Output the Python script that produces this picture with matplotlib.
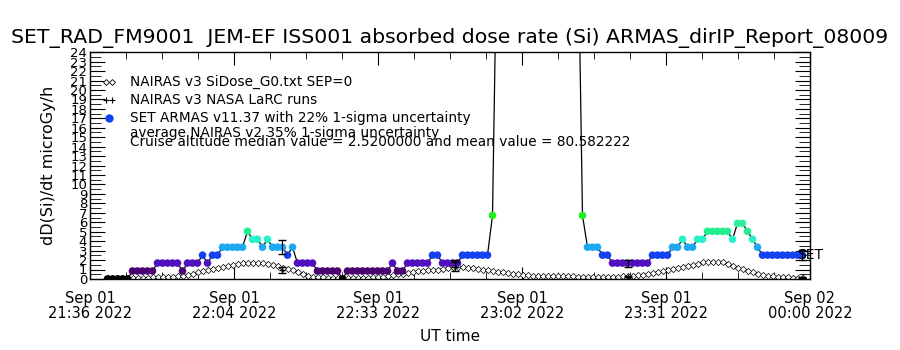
import numpy as np
import matplotlib
matplotlib.use('Agg')
import matplotlib.pyplot as plt
from matplotlib.colors import ListedColormap, BoundaryNorm
from matplotlib.ticker import MultipleLocator

# Zeitachse in Minuten ab 21:36 UT, ein Messwert pro Minute
t_start = 3.5
t_step = 1.0

# ARMAS Dosisrate (microGy/h), Spitze in der Mitte geht weit über den Plotbereich
armas = [
    0.0, 0.0, 0.0, 0.0, 0.0,
    0.84, 0.84, 0.84, 0.84, 0.84,
    1.68, 1.68, 1.68, 1.68, 1.68,
    0.84, 1.68, 1.68, 1.68, 2.52, 1.68, 2.52, 2.52,
    3.36, 3.36, 3.36, 3.36, 3.36,
    5.04, 4.20, 4.20, 3.36, 4.20,
    3.36, 3.36, 3.36, 2.52, 3.36,
    1.68, 1.68, 1.68, 1.68,
    0.84, 0.84, 0.84, 0.84, 0.84,
    0.0,
    0.84, 0.84, 0.84, 0.84, 0.84, 0.84, 0.84, 0.84, 0.84,
    1.68, 0.84, 0.84,
    1.68, 1.68, 1.68, 1.68, 1.68,
    2.52, 2.52,
    1.68, 1.68, 1.68, 1.68,
    2.52, 2.52, 2.52, 2.52, 2.52, 2.52,
    6.72,
    40.0, 150.0, 400.0, 800.0, 1100.0, 1300.0, 1400.0, 1350.0, 1200.0,
    1050.0, 900.0, 650.0, 400.0, 200.0, 90.0, 45.0, 40.0,
    6.72,
    3.36, 3.36, 3.36,
    2.52, 2.52,
    1.68, 1.68, 1.68, 1.68, 1.68, 1.68, 1.68, 1.68,
    2.52, 2.52, 2.52, 2.52,
    3.36, 3.36, 4.20, 3.36, 3.36, 4.20, 4.20,
    5.04, 5.04, 5.04, 5.04, 5.04,
    4.20, 5.88, 5.88, 5.04, 4.20, 3.36,
    2.52, 2.52, 2.52, 2.52, 2.52, 2.52, 2.52, 2.52, 2.52,
]

# NAIRAS v3 SiDose_G0 Modellwerte
nairas = [
    0.15, 0.15, 0.15, 0.15, 0.15, 0.15, 0.15, 0.15, 0.15, 0.2,
    0.2, 0.2, 0.2, 0.25, 0.3, 0.35, 0.45, 0.55, 0.7, 0.85,
    0.95, 1.05, 1.15, 1.25, 1.4, 1.5, 1.6, 1.65, 1.7, 1.7,
    1.7, 1.65, 1.55, 1.45, 1.35, 1.2, 1.05, 0.9, 0.7, 0.5,
    0.35, 0.25, 0.2, 0.2, 0.15, 0.15, 0.15, 0.15, 0.15, 0.15,
    0.15, 0.15, 0.15, 0.2, 0.2, 0.25, 0.3, 0.4, 0.5, 0.55,
    0.6, 0.7, 0.8, 0.85, 0.9, 0.95, 1.0, 1.1, 1.2, 1.3,
    1.3, 1.25, 1.2, 1.15, 1.05, 1.0, 0.9, 0.85, 0.75, 0.7,
    0.6, 0.55, 0.5, 0.45, 0.4, 0.35, 0.35, 0.3, 0.3, 0.3,
    0.3, 0.3, 0.3, 0.3, 0.25, 0.25, 0.25, 0.25, 0.25, 0.25,
    0.25, 0.25, 0.25, 0.3, 0.3, 0.35, 0.4, 0.45, 0.55, 0.65,
    0.75, 0.85, 0.95, 1.05, 1.15, 1.3, 1.4, 1.5, 1.6, 1.75,
    1.75, 1.8, 1.8, 1.75, 1.6, 1.4, 1.2, 1.05, 0.85, 0.7,
    0.55, 0.45, 0.35, 0.3, 0.25, 0.2, 0.2, 0.15, 0.15, 0.15,
]

# NASA LaRC Läufe (35% Unsicherheit) und ARMAS Fehlerbalken (22%)
larc_t = [3.6, 38.4, 73.0, 107.6, 142.4]
larc_v = [0.15, 0.95, 1.30, 0.25, 0.15]
larc_err = [0.05, 0.33, 0.45, 0.09, 0.05]
armas_bar_v = [0.0, 3.36, 1.68, 1.68, 2.52]
armas_bar_err = [0.0, 0.74, 0.37, 0.37, 0.55]

tick_pos = [0, 28.8, 57.6, 86.4, 115.2, 144]
tick_lab = ['Sep 01\n21:36 2022', 'Sep 01\n22:04 2022', 'Sep 01\n22:33 2022',
            'Sep 01\n23:02 2022', 'Sep 01\n23:31 2022', 'Sep 02\n00:00 2022']

times = t_start + t_step * np.arange(len(armas))

# Farbskala nach Dosisstufe (wie IDL rainbow)
level_colors = ['#000000', '#4A0070', '#5010C0', '#1442F0', '#1EA8F0',
                '#28F0C8', '#22F090', '#2AF0A0', '#22EE22']
cmap = ListedColormap(level_colors)
norm = BoundaryNorm(np.arange(-0.42, 7.2, 0.84), ncolors=len(level_colors), clip=True)

fig = plt.figure(figsize=(9, 3.5), dpi=100)
ax = fig.add_axes([0.1, 0.203, 0.8, 0.648])

ax.plot(times, nairas, color='black', lw=0.5, marker='D', ms=3.2,
        mfc='white', mec='black', mew=0.5, zorder=2)
ax.plot(times, armas, color='black', lw=0.9, zorder=3)
ax.scatter(times, armas, c=armas, cmap=cmap, norm=norm, s=30,
           edgecolors='none', zorder=4)
ax.errorbar(larc_t, larc_v, yerr=larc_err, fmt='+', color='black', ms=5,
            capsize=3, lw=0.8, zorder=5)
ax.errorbar(larc_t, armas_bar_v, yerr=armas_bar_err, fmt='none', ecolor='black',
            capsize=3, lw=0.8, zorder=5)
ax.text(141.4, 2.52, 'SET', fontsize=10, va='center', ha='left', clip_on=False, zorder=6)

ax.set_xlim(0, 144)
ax.set_ylim(0, 24)
ax.set_xticks(tick_pos)
ax.set_xticklabels(tick_lab, fontsize=10.5, linespacing=0.95)
ax.xaxis.set_minor_locator(MultipleLocator(7.2))
ax.set_yticks(range(0, 25))
ax.set_yticklabels([str(v) for v in range(0, 25)], fontsize=9.5)
ax.yaxis.set_minor_locator(MultipleLocator(0.5))
ax.tick_params(axis='x', which='major', direction='in', length=9, top=True, pad=9)
ax.tick_params(axis='x', which='minor', direction='in', length=5, top=True)
ax.tick_params(axis='y', which='both', direction='in', length=11, right=True, pad=2)
ax.tick_params(axis='y', which='minor', length=8)
for s in ax.spines.values():
    s.set_linewidth(1.0)

ax.set_xlabel('UT time', fontsize=11, labelpad=6)
ax.set_ylabel('dD(Si)/dt microGy/h', fontsize=11.5, labelpad=10)

fig.text(0.5, 1 - 38 / 350,
         'SET_RAD_FM9001  JEM-EF ISS001 absorbed dose rate (Si) ARMAS_dirIP_Report_08009',
         ha='center', va='center', fontsize=14.7)

# Legende von Hand, wie im IDL-Plot
lx = 0.055
ax.plot([0.022, 0.030], [0.87, 0.87], transform=ax.transAxes, ls='none', marker='D',
        ms=3, mfc='white', mec='black', mew=0.6, clip_on=False)
ax.plot([0.022, 0.030], [0.79, 0.79], transform=ax.transAxes, ls='none', marker='+',
        ms=5, color='black', mew=0.8, clip_on=False)
ax.plot([0.026], [0.71], transform=ax.transAxes, ls='none', marker='o',
        ms=5, color='#1442F0', clip_on=False)
ax.text(lx, 0.87, 'NAIRAS v3 SiDose_G0.txt SEP=0', transform=ax.transAxes,
        fontsize=9.8, va='center')
ax.text(lx, 0.79, 'NAIRAS v3 NASA LaRC runs', transform=ax.transAxes,
        fontsize=9.8, va='center')
ax.text(lx, 0.71, 'SET ARMAS v11.37 with 22% 1-sigma uncertainty', transform=ax.transAxes,
        fontsize=9.8, va='center')
ax.text(lx, 0.645, 'average NAIRAS v2 35% 1-sigma uncertainty', transform=ax.transAxes,
        fontsize=9.8, va='center')
ax.text(lx, 0.605, 'Cruise altitude median value = 2.5200000 and mean value = 80.582222',
        transform=ax.transAxes, fontsize=9.8, va='center')

fig.savefig('out.png', dpi=100)
